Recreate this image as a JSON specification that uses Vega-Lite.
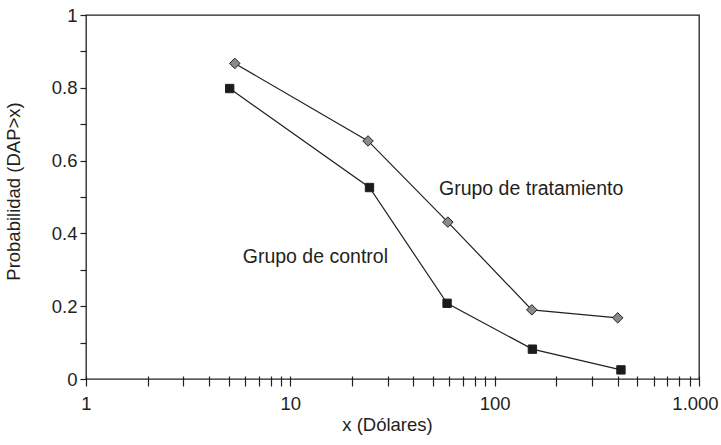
{
  "$schema": "https://vega.github.io/schema/vega-lite/v6.json",
  "width": 613,
  "height": 364,
  "autosize": {"type": "none"},
  "padding": {"left": 86, "top": 15, "right": 22, "bottom": 66},
  "background": "white",
  "config": {
    "view": {"stroke": "#231f20", "strokeWidth": 1.3},
    "font": "Liberation Sans",
    "axis": {"grid": false, "domain": false, "labelFont": "Liberation Sans", "titleFont": "Liberation Sans", "labelColor": "#231f20", "titleColor": "#231f20", "tickColor": "#231f20", "tickWidth": 1.2, "titleFontWeight": "normal", "labelFontSize": 18.5, "titleFontSize": 18.5, "labelOverlap": false, "labelFlush": false}
  },
  "datasets": {
    "points": [
      {"group": "Grupo de tratamiento", "x": 5.35, "y": 0.867},
      {"group": "Grupo de tratamiento", "x": 24, "y": 0.654},
      {"group": "Grupo de tratamiento", "x": 59, "y": 0.431},
      {"group": "Grupo de tratamiento", "x": 152, "y": 0.19},
      {"group": "Grupo de tratamiento", "x": 400, "y": 0.168},
      {"group": "Grupo de control", "x": 5.05, "y": 0.798},
      {"group": "Grupo de control", "x": 24.4, "y": 0.526},
      {"group": "Grupo de control", "x": 58.5, "y": 0.208},
      {"group": "Grupo de control", "x": 153, "y": 0.082},
      {"group": "Grupo de control", "x": 415, "y": 0.025}
    ],
    "labels": [
      {"label": "Grupo de tratamiento", "x": 53.4, "y": 0.505},
      {"label": "Grupo de control", "x": 5.85, "y": 0.319}
    ]
  },
  "encoding": {
    "x": {
      "field": "x", "type": "quantitative",
      "scale": {"type": "log", "domain": [1, 1000], "nice": false},
      "axis": {
        "title": "x (Dólares)",
        "values": [1,2,3,4,5,6,7,8,9,10,20,30,40,50,60,70,80,90,100,200,300,400,500,600,700,800,900,1000],
        "labelExpr": "datum.value == 1 ? '1' : datum.value == 10 ? '10' : datum.value == 100 ? '100' : datum.value == 1000 ? '1.000' : ''",
        "labelOffset": {"condition": {"test": "datum.value == 1000", "value": -4}, "value": 0},
        "offset": -3,
        "tickSize": 10,
        "labelPadding": 8,
        "titleX": 301,
        "titleY": 54,
        "titleBaseline": "alphabetic"
      }
    },
    "y": {
      "field": "y", "type": "quantitative",
      "scale": {"domain": [0, 1], "nice": false, "zero": false},
      "axis": {
        "title": "Probabilidad (DAP>x)",
        "values": [0,0.1,0.2,0.3,0.4,0.5,0.6,0.7,0.8,0.9,1],
        "labelExpr": "indexof([0,0.2,0.4,0.6,0.8,1], datum.value) >= 0 ? '' + datum.value : ''",
        "tickSize": 6,
        "labelPadding": 3,
        "titleX": -66.5,
        "titleY": 176,
        "titleBaseline": "alphabetic"
      }
    }
  },
  "layer": [
    {
      "data": {"name": "points"},
      "mark": {"type": "line", "color": "#231f20", "strokeWidth": 1.2},
      "encoding": {"detail": {"field": "group"}}
    },
    {
      "data": {"name": "points"},
      "transform": [{"filter": "datum.group == 'Grupo de control'"}],
      "mark": {"type": "point", "shape": "square", "filled": true, "fill": "#1c1a1b", "stroke": "#231f20", "strokeWidth": 1, "opacity": 1, "size": 70}
    },
    {
      "data": {"name": "points"},
      "transform": [{"filter": "datum.group == 'Grupo de tratamiento'"}],
      "mark": {"type": "point", "shape": "diamond", "filled": true, "fill": "#8a8a8a", "stroke": "#231f20", "strokeWidth": 1, "opacity": 1, "size": 110}
    },
    {
      "data": {"name": "labels"},
      "mark": {"type": "text", "align": "left", "baseline": "alphabetic", "fontSize": 19.5, "font": "Liberation Sans", "color": "#231f20"},
      "encoding": {"text": {"field": "label"}}
    }
  ]
}
